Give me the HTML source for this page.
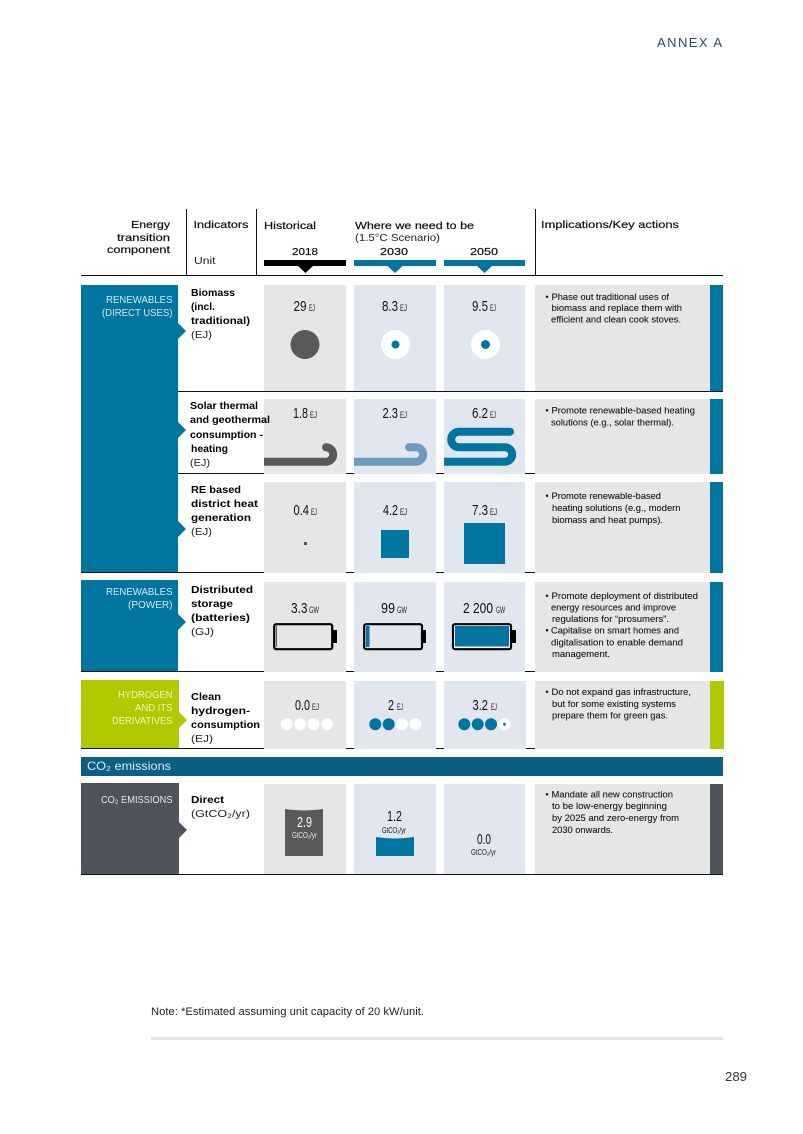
<!DOCTYPE html>
<html><head><meta charset="utf-8"><style>
html,body{margin:0;padding:0;background:#fff;width:803px;height:1134px;overflow:hidden}
svg{display:block}
text{font-family:"Liberation Sans",sans-serif;fill:#1a1a1a}
.h{font-size:10.5px;fill:#111;stroke:#111;stroke-width:.2}
.l{font-size:10.5px;fill:#d6e7ef}
.b{font-size:10.5px;font-weight:bold;fill:#000}
.u{font-size:10.5px;fill:#222}
.n{font-size:15px;fill:#111}
.s{font-size:9px;fill:#222}
.i{font-size:8.8px;fill:#111;stroke:#111;stroke-width:.08}
</style></head><body>
<svg width="803" height="1134" viewBox="0 0 803 1134" xmlns="http://www.w3.org/2000/svg">
<rect width="803" height="1134" fill="#fff"/>
<text x="657" y="47" style="font-size:13px;fill:#2f4a68" textLength="65" lengthAdjust="spacing">ANNEX A</text>

<!-- header -->
<text class="h" x="131" y="228" textLength="39" lengthAdjust="spacingAndGlyphs">Energy</text>
<text class="h" x="117" y="241" textLength="53" lengthAdjust="spacingAndGlyphs">transition</text>
<text class="h" x="107" y="253" textLength="63" lengthAdjust="spacingAndGlyphs">component</text>
<text class="h" x="193.5" y="228" textLength="55" lengthAdjust="spacingAndGlyphs">Indicators</text>
<text class="u" x="194" y="264" textLength="21.5" lengthAdjust="spacingAndGlyphs">Unit</text>
<text class="h" x="264" y="229" textLength="52" lengthAdjust="spacingAndGlyphs">Historical</text>
<text class="h" x="355" y="229" textLength="119" lengthAdjust="spacingAndGlyphs">Where we need to be</text>
<text class="u" x="355" y="241" textLength="85" lengthAdjust="spacingAndGlyphs">(1.5°C Scenario)</text>
<text class="h" x="292" y="255" textLength="26" lengthAdjust="spacingAndGlyphs">2018</text>
<text class="h" x="380" y="255" textLength="28" lengthAdjust="spacingAndGlyphs">2030</text>
<text class="h" x="470" y="255" textLength="28" lengthAdjust="spacingAndGlyphs">2050</text>
<text class="h" x="541" y="228" textLength="138" lengthAdjust="spacingAndGlyphs">Implications/Key actions</text>
<rect x="186" y="209" width="1" height="66" fill="#111"/>
<rect x="256" y="209" width="1" height="66" fill="#111"/>
<rect x="535" y="209" width="1" height="66" fill="#111"/>
<rect x="264" y="260" width="82" height="6" fill="#000"/>
<polygon points="298,266 313,266 305.5,273" fill="#000"/>
<rect x="354" y="260" width="82" height="6" fill="#00759f"/>
<polygon points="387.5,266 402.5,266 395,273" fill="#00759f"/>
<rect x="444" y="260" width="81" height="6" fill="#00759f"/>
<polygon points="477,266 492,266 484.5,273" fill="#00759f"/>

<!-- rule lines -->
<g fill="#111">
<rect x="81" y="275" width="642" height="1"/>
<rect x="178" y="391" width="545" height="1"/>
<rect x="178" y="473" width="545" height="1"/>
<rect x="81" y="572" width="642" height="1"/>
<rect x="81" y="671" width="642" height="1"/>
<rect x="81" y="748" width="642" height="1"/>
<rect x="81" y="874" width="642" height="1"/>
</g>

<!-- category blocks -->
<rect x="81" y="285" width="97" height="287" fill="#00759f"/>
<polygon points="178,323 186,331 178,339" fill="#00759f"/>
<polygon points="178,422 186,430 178,438" fill="#00759f"/>
<polygon points="178,521 186,529 178,537" fill="#00759f"/>
<rect x="81" y="580" width="97" height="91" fill="#00759f"/>
<polygon points="178,614 186,622 178,630" fill="#00759f"/>
<rect x="81" y="680" width="98" height="68" fill="#b2c900"/>
<polygon points="179,712 187,720 179,728" fill="#b2c900"/>
<rect x="81" y="757" width="642" height="19" fill="#0b5f82"/>
<rect x="81" y="783" width="98" height="91" fill="#4d5359"/>
<polygon points="179,822 187,830 179,838" fill="#4d5359"/>

<text class="l" x="106" y="303" textLength="66.5" lengthAdjust="spacingAndGlyphs">RENEWABLES</text>
<text class="l" x="102" y="316" textLength="70.5" lengthAdjust="spacingAndGlyphs">(DIRECT USES)</text>
<text class="l" x="106" y="595" textLength="66.5" lengthAdjust="spacingAndGlyphs">RENEWABLES</text>
<text class="l" x="128" y="608" textLength="44.5" lengthAdjust="spacingAndGlyphs">(POWER)</text>
<text class="l" x="118" y="698" textLength="54.5" lengthAdjust="spacingAndGlyphs" style="fill:#eef4c8">HYDROGEN</text>
<text class="l" x="135" y="711" textLength="37.5" lengthAdjust="spacingAndGlyphs" style="fill:#eef4c8">AND ITS</text>
<text class="l" x="112" y="724" textLength="60.5" lengthAdjust="spacingAndGlyphs" style="fill:#eef4c8">DERIVATIVES</text>
<text class="l" x="101" y="803" textLength="71.5" lengthAdjust="spacingAndGlyphs" style="fill:#e6e7e8">CO₂ EMISSIONS</text>
<text x="87" y="770" textLength="84" lengthAdjust="spacingAndGlyphs" style="font-size:12px;fill:#dfeaf0">CO₂ emissions</text>

<!-- cells -->
<g fill="#e6e6e6">
<rect x="264" y="285" width="82" height="106"/><rect x="264" y="399" width="82" height="75"/><rect x="264" y="482" width="82" height="91"/><rect x="264" y="582" width="82" height="90"/><rect x="264" y="681" width="82" height="68"/><rect x="264" y="784" width="82" height="90"/>
<rect x="535" y="285" width="175" height="106"/><rect x="535" y="399" width="175" height="75"/><rect x="535" y="482" width="175" height="91"/><rect x="535" y="582" width="175" height="90"/><rect x="535" y="681" width="175" height="68"/><rect x="535" y="784" width="175" height="90"/>
</g>
<g fill="#e1e6ef">
<rect x="354" y="285" width="82" height="106"/><rect x="354" y="399" width="82" height="75"/><rect x="354" y="482" width="82" height="91"/><rect x="354" y="582" width="82" height="90"/><rect x="354" y="681" width="82" height="68"/><rect x="354" y="784" width="82" height="90"/>
<rect x="444" y="285" width="81" height="106"/><rect x="444" y="399" width="81" height="75"/><rect x="444" y="482" width="81" height="91"/><rect x="444" y="582" width="81" height="90"/><rect x="444" y="681" width="82" height="68"/><rect x="444" y="784" width="81" height="90"/>
</g>
<g fill="#00759f">
<rect x="710" y="285" width="13" height="106"/><rect x="710" y="399" width="13" height="75"/><rect x="710" y="482" width="13" height="91"/><rect x="710" y="582" width="13" height="90"/>
</g>
<rect x="710" y="681" width="14" height="68" fill="#b2c900"/>
<rect x="710" y="784" width="13" height="90" fill="#4d5359"/>

<!-- indicators -->
<text class="b" x="191" y="296" textLength="44" lengthAdjust="spacingAndGlyphs">Biomass</text>
<text class="b" x="191" y="310" textLength="24" lengthAdjust="spacingAndGlyphs">(incl.</text>
<text class="b" x="191" y="324" textLength="59" lengthAdjust="spacingAndGlyphs">traditional)</text>
<text class="u" x="191" y="338" textLength="21" lengthAdjust="spacingAndGlyphs">(EJ)</text>
<text class="b" x="190" y="409" textLength="68" lengthAdjust="spacingAndGlyphs">Solar thermal</text>
<text class="b" x="190" y="423" textLength="80" lengthAdjust="spacingAndGlyphs">and geothermal</text>
<text class="b" x="190" y="438" textLength="73" lengthAdjust="spacingAndGlyphs">consumption -</text>
<text class="b" x="191" y="452" textLength="37" lengthAdjust="spacingAndGlyphs">heating</text>
<text class="u" x="190" y="466" textLength="20" lengthAdjust="spacingAndGlyphs">(EJ)</text>
<text class="b" x="191" y="493" textLength="50" lengthAdjust="spacingAndGlyphs">RE based</text>
<text class="b" x="191" y="507" textLength="67" lengthAdjust="spacingAndGlyphs">district heat</text>
<text class="b" x="191" y="521" textLength="60" lengthAdjust="spacingAndGlyphs">generation</text>
<text class="u" x="191" y="535" textLength="21" lengthAdjust="spacingAndGlyphs">(EJ)</text>
<text class="b" x="191" y="593" textLength="62" lengthAdjust="spacingAndGlyphs">Distributed</text>
<text class="b" x="191" y="607" textLength="42" lengthAdjust="spacingAndGlyphs">storage</text>
<text class="b" x="191" y="621" textLength="59" lengthAdjust="spacingAndGlyphs">(batteries)</text>
<text class="u" x="191" y="635" textLength="23" lengthAdjust="spacingAndGlyphs">(GJ)</text>
<text class="b" x="191" y="700" textLength="30" lengthAdjust="spacingAndGlyphs">Clean</text>
<text class="b" x="191" y="714" textLength="59" lengthAdjust="spacingAndGlyphs">hydrogen-</text>
<text class="b" x="191" y="728" textLength="69" lengthAdjust="spacingAndGlyphs">consumption</text>
<text class="u" x="191" y="742" textLength="22" lengthAdjust="spacingAndGlyphs">(EJ)</text>
<text class="b" x="191" y="803" textLength="33" lengthAdjust="spacingAndGlyphs">Direct</text>
<text class="u" x="191" y="817" textLength="59" lengthAdjust="spacingAndGlyphs">(GtCO₂/yr)</text>

<!-- values -->
<text class="n" x="293.5" y="311" textLength="13" lengthAdjust="spacingAndGlyphs">29</text><text class="s" x="309" y="311" textLength="6" lengthAdjust="spacingAndGlyphs">EJ</text>
<text class="n" x="382" y="311" textLength="16" lengthAdjust="spacingAndGlyphs">8.3</text><text class="s" x="400" y="311" textLength="7" lengthAdjust="spacingAndGlyphs">EJ</text>
<text class="n" x="472" y="311" textLength="16" lengthAdjust="spacingAndGlyphs">9.5</text><text class="s" x="490" y="311" textLength="6" lengthAdjust="spacingAndGlyphs">EJ</text>
<text class="n" x="293" y="418" textLength="15" lengthAdjust="spacingAndGlyphs">1.8</text><text class="s" x="310" y="418" textLength="7" lengthAdjust="spacingAndGlyphs">EJ</text>
<text class="n" x="382.5" y="418" textLength="15.5" lengthAdjust="spacingAndGlyphs">2.3</text><text class="s" x="400" y="418" textLength="7" lengthAdjust="spacingAndGlyphs">EJ</text>
<text class="n" x="472" y="418" textLength="16" lengthAdjust="spacingAndGlyphs">6.2</text><text class="s" x="490" y="418" textLength="6" lengthAdjust="spacingAndGlyphs">EJ</text>
<text class="n" x="293.5" y="515" textLength="15.5" lengthAdjust="spacingAndGlyphs">0.4</text><text class="s" x="311" y="515" textLength="6" lengthAdjust="spacingAndGlyphs">EJ</text>
<text class="n" x="383" y="515" textLength="15" lengthAdjust="spacingAndGlyphs">4.2</text><text class="s" x="400" y="515" textLength="7" lengthAdjust="spacingAndGlyphs">EJ</text>
<text class="n" x="472" y="515" textLength="16" lengthAdjust="spacingAndGlyphs">7.3</text><text class="s" x="490" y="515" textLength="7" lengthAdjust="spacingAndGlyphs">EJ</text>
<text class="n" x="291" y="613" textLength="16.5" lengthAdjust="spacingAndGlyphs">3.3</text><text class="s" x="309" y="613" textLength="10" lengthAdjust="spacingAndGlyphs">GW</text>
<text class="n" x="381" y="613" textLength="14" lengthAdjust="spacingAndGlyphs">99</text><text class="s" x="397" y="613" textLength="10" lengthAdjust="spacingAndGlyphs">GW</text>
<text class="n" x="463" y="613" textLength="30" lengthAdjust="spacingAndGlyphs">2 200</text><text class="s" x="496" y="613" textLength="9" lengthAdjust="spacingAndGlyphs">GW</text>
<text class="n" x="295" y="710" textLength="15" lengthAdjust="spacingAndGlyphs">0.0</text><text class="s" x="312" y="710" textLength="7" lengthAdjust="spacingAndGlyphs">EJ</text>
<text class="n" x="388" y="710" textLength="6" lengthAdjust="spacingAndGlyphs">2</text><text class="s" x="397" y="710" textLength="6" lengthAdjust="spacingAndGlyphs">EJ</text>
<text class="n" x="472.5" y="710" textLength="15.5" lengthAdjust="spacingAndGlyphs">3.2</text><text class="s" x="491" y="710" textLength="6" lengthAdjust="spacingAndGlyphs">EJ</text>

<!-- circles -->
<circle cx="305" cy="344.5" r="14.5" fill="#58595b"/>
<circle cx="395.5" cy="344.5" r="14.5" fill="#fff"/><circle cx="395.5" cy="344.5" r="4" fill="#00759f"/>
<circle cx="485.5" cy="344.5" r="14.5" fill="#fff"/><circle cx="485.5" cy="344.5" r="4.5" fill="#00759f"/>

<!-- pipes -->
<path d="M264 461.7H326A7.2 7.2 0 0 0 326 447.3" fill="none" stroke="#58595b" stroke-width="8"/><circle cx="326" cy="447.3" r="4" fill="#58595b"/>
<path d="M354 461.7H416A7.2 7.2 0 0 0 416 447.3H409" fill="none" stroke="#6f9abf" stroke-width="8"/><circle cx="409" cy="447.3" r="4" fill="#6f9abf"/>
<path d="M444 461.7H505A7.2 7.2 0 0 0 505 447.3H459A7.8 7.8 0 0 1 459 431.7H510" fill="none" stroke="#00759f" stroke-width="8"/><circle cx="510" cy="431.7" r="4" fill="#00759f"/>

<!-- squares -->
<rect x="304" y="542" width="3" height="3" fill="#58595b"/>
<rect x="381" y="530" width="28" height="28" fill="#00759f"/>
<rect x="464" y="523" width="41" height="41" fill="#00759f"/>

<!-- batteries -->
<rect x="274.2" y="624.2" width="58" height="25" rx="2" fill="none" stroke="#000" stroke-width="2.2"/><rect x="332" y="630" width="5" height="13" fill="#000"/><rect x="276" y="626" width="1" height="21" fill="#58595b"/>
<rect x="364.2" y="624.2" width="57.8" height="25" rx="2" fill="none" stroke="#000" stroke-width="2.2"/><rect x="422" y="630" width="4" height="13" fill="#000"/><rect x="366" y="626" width="3.5" height="21" fill="#00759f"/>
<rect x="453" y="624.2" width="58" height="25" rx="2" fill="#fff" stroke="#000" stroke-width="2.2"/><rect x="511" y="630" width="5" height="13" fill="#000"/><rect x="455" y="626" width="54" height="20.5" fill="#00759f"/>

<!-- dots -->
<g fill="#fff"><circle cx="286.7" cy="724.3" r="6"/><circle cx="300" cy="724.3" r="6"/><circle cx="313.5" cy="724.3" r="6"/><circle cx="327" cy="724.3" r="6"/>
<circle cx="402" cy="724.3" r="6"/><circle cx="415.5" cy="724.3" r="6"/><circle cx="504.5" cy="724.3" r="6"/></g>
<g fill="#00759f"><circle cx="375.3" cy="724.3" r="6"/><circle cx="388.7" cy="724.3" r="6"/>
<circle cx="464.3" cy="724.3" r="6"/><circle cx="477.7" cy="724.3" r="6"/><circle cx="491" cy="724.3" r="6"/><circle cx="504.5" cy="724.3" r="1.4"/></g>

<!-- CO2 boxes -->
<path d="M285 809Q304 812 323 809V856H285Z" fill="#58595b"/>
<path d="M376 837Q395 840 414 837V856H376Z" fill="#00759f"/>
<text class="n" x="297" y="827" textLength="15" lengthAdjust="spacingAndGlyphs" style="fill:#fff">2.9</text>
<text x="292" y="838" textLength="25" lengthAdjust="spacingAndGlyphs" style="font-size:8.5px;fill:#eee">GtCO₂/yr</text>
<text class="n" x="387" y="821" textLength="15" lengthAdjust="spacingAndGlyphs">1.2</text>
<text x="382" y="833" textLength="24" lengthAdjust="spacingAndGlyphs" style="font-size:8.5px;fill:#111">GtCO₂/yr</text>
<text class="n" x="477" y="844" textLength="14" lengthAdjust="spacingAndGlyphs">0.0</text>
<text x="471" y="855" textLength="25" lengthAdjust="spacingAndGlyphs" style="font-size:8.5px;fill:#111">GtCO₂/yr</text>

<!-- implications -->
<g>
<text class="i" x="545.5" y="300">•</text><text class="i" x="551.5" y="300" textLength="117.5" lengthAdjust="spacingAndGlyphs">Phase out traditional uses of</text>
<text class="i" x="551.5" y="311" textLength="130.5" lengthAdjust="spacingAndGlyphs">biomass and replace them with</text>
<text class="i" x="551" y="322.5" textLength="130" lengthAdjust="spacingAndGlyphs">efficient and clean cook stoves.</text>

<text class="i" x="545.5" y="413.7">•</text><text class="i" x="551.5" y="413.7" textLength="143.5" lengthAdjust="spacingAndGlyphs">Promote renewable-based heating</text>
<text class="i" x="551" y="425.7" textLength="123" lengthAdjust="spacingAndGlyphs">solutions (e.g., solar thermal).</text>

<text class="i" x="545.5" y="499">•</text><text class="i" x="551.5" y="499" textLength="109.5" lengthAdjust="spacingAndGlyphs">Promote renewable-based</text>
<text class="i" x="552" y="511" textLength="128.5" lengthAdjust="spacingAndGlyphs">heating solutions (e.g., modern</text>
<text class="i" x="552" y="523" textLength="111" lengthAdjust="spacingAndGlyphs">biomass and heat pumps).</text>

<text class="i" x="545.5" y="599">•</text><text class="i" x="551.5" y="599" textLength="146.5" lengthAdjust="spacingAndGlyphs">Promote deployment of distributed</text>
<text class="i" x="551" y="610.5" textLength="125" lengthAdjust="spacingAndGlyphs">energy resources and improve</text>
<text class="i" x="552" y="622" textLength="117" lengthAdjust="spacingAndGlyphs">regulations for “prosumers”.</text>
<text class="i" x="545.5" y="633.5">•</text><text class="i" x="551" y="633.5" textLength="128" lengthAdjust="spacingAndGlyphs">Capitalise on smart homes and</text>
<text class="i" x="551" y="645.5" textLength="132" lengthAdjust="spacingAndGlyphs">digitalisation to enable demand</text>
<text class="i" x="552" y="657" textLength="58" lengthAdjust="spacingAndGlyphs">management.</text>

<text class="i" x="545.5" y="695">•</text><text class="i" x="551.5" y="695" textLength="139.5" lengthAdjust="spacingAndGlyphs">Do not expand gas infrastructure,</text>
<text class="i" x="552" y="707" textLength="124" lengthAdjust="spacingAndGlyphs">but for some existing systems</text>
<text class="i" x="552" y="718.6" textLength="116" lengthAdjust="spacingAndGlyphs">prepare them for green gas.</text>

<text class="i" x="545.5" y="797.7">•</text><text class="i" x="551.5" y="797.7" textLength="121.5" lengthAdjust="spacingAndGlyphs">Mandate all new construction</text>
<text class="i" x="552" y="809" textLength="115" lengthAdjust="spacingAndGlyphs">to be low-energy beginning</text>
<text class="i" x="552" y="821" textLength="127" lengthAdjust="spacingAndGlyphs">by 2025 and zero-energy from</text>
<text class="i" x="552" y="833" textLength="61" lengthAdjust="spacingAndGlyphs">2030 onwards.</text>
</g>

<!-- footer -->
<text x="151" y="1015" textLength="273" lengthAdjust="spacingAndGlyphs" style="font-size:11px;fill:#222">Note: *Estimated assuming unit capacity of 20 kW/unit.</text>
<rect x="151" y="1037" width="572" height="3" fill="#e3e4e6"/>
<text x="725" y="1081" textLength="22" lengthAdjust="spacingAndGlyphs" style="font-size:13px;fill:#333">289</text>
</svg>
</body></html>
